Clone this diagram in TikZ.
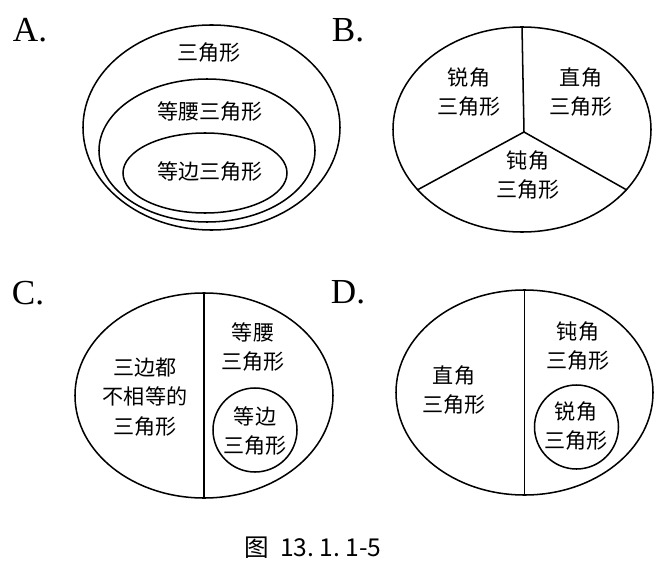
\documentclass[tikz,border=0pt]{standalone}
\usepackage{fontspec}
\setmainfont{Liberation Serif}
\newfontfamily\cjk{Noto Sans CJK SC}
\usetikzlibrary{shapes.geometric,positioning}

\tikzset{
  region/.style={ellipse,draw,line width=1.3pt,inner sep=0pt},
  disc/.style={circle,draw,line width=1.3pt,inner sep=0pt,minimum size=2.52cm},
  lbl/.style={font=\cjk\fontsize{18}{25}\selectfont,align=center,inner sep=0pt},
  tag/.style={font=\fontsize{30}{30}\selectfont,inner sep=0pt}
}

\begin{document}
\begin{tikzpicture}[x=0.03cm,y=-0.03cm]

\useasboundingbox (0,0) rectangle (672,565);

% A
\node (a) [tag] at (30,30) {A.};
\node (ao) [region,minimum width=7.71cm,minimum height=6.15cm] at (211.5,127.5) {};
\node (am) [region,minimum width=6.48cm,minimum height=4.29cm] at (207,150.5) {};
\node (ai) [region,minimum width=4.92cm,minimum height=2.4cm] at (205,173) {};
\node (at) [lbl] at (209,53) {三角形};
\node (amt) [lbl] at (210,112) {等腰三角形};
\node (ait) [lbl] at (210,172) {等边三角形};

% B
\node (b) [tag] at (348,30) {B.};
\node (bo) [region,minimum width=7.74cm,minimum height=6.15cm] at (522,129.5) {};
\coordinate (bc) at (524,132);
\draw[line width=1.3pt] (bo.north) -- (bc);
\draw[line width=1.3pt] (bc) -- (bo.210);
\draw[line width=1.3pt] (bc) -- (bo.330);
\node (b1) [lbl] at (469,92) {锐角\\三角形};
\node (b2) [lbl] at (581,92) {直角\\三角形};
\node (b3) [lbl] at (528,175) {钝角\\三角形};

% C
\node (c) [tag] at (28,293) {C.};
\node (co) [region,minimum width=7.74cm,minimum height=6.15cm] at (204,395.5) {};
\draw[line width=1.3pt] (co.north) -- (co.south);
\node (c1) [lbl] at (145,397) {三边都\\不相等的\\三角形};
\node (c2) [lbl] at (253,347) {等腰\\三角形};
\node (ci) [disc] at (255,430) {};
\node (c3) [lbl] at (255,431) {等边\\三角形};

% D
\node (d) [tag] at (348,292) {D.};
\node (do) [region,minimum width=7.71cm,minimum height=6.15cm] at (524.5,392.5) {};
\draw[line width=1.3pt] (do.north) -- (do.south);
\node (d1) [lbl] at (454,390) {直角\\三角形};
\node (d2) [lbl] at (578,346) {钝角\\三角形};
\node (di) [disc] at (576.5,427) {};
\node (d3) [lbl] at (576,426) {锐角\\三角形};

% caption
\node (cap) [font=\cjk\fontsize{21}{22}\selectfont,inner sep=0pt] at (313,548) {图\ \ 13.\ 1.\ 1-5};

\end{tikzpicture}
\end{document}
